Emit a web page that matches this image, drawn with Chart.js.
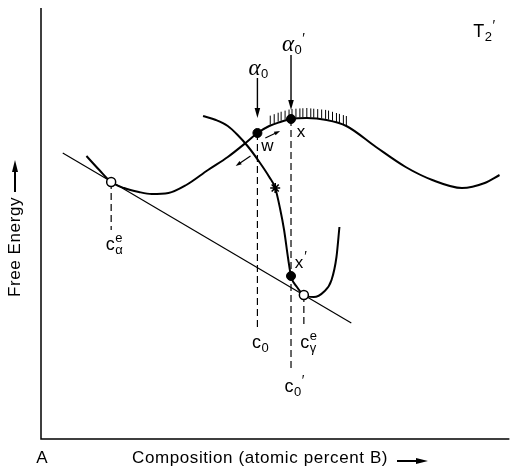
<!DOCTYPE html>
<html>
<head>
<meta charset="utf-8">
<script src="https://cdn.jsdelivr.net/npm/chart.js@4.4.0/dist/chart.umd.min.js"></script>
<style>
  html, body { margin: 0; padding: 0; background: #fff; }
  #wrap { width: 516px; height: 467px; position: relative; }
</style>
</head>
<body>
<div id="wrap"><canvas id="myChart"></canvas></div>
<script>
// composition (A at 0, arbitrary units) / free energy (arbitrary units)
var alphaX = [46, 59, 71, 84, 99, 112, 129, 147, 169, 189, 207, 219, 231, 242, 253, 269, 289, 309, 339, 369, 396, 426, 449, 464];
var alphaY = [283, 269, 257, 251, 247, 245, 246, 254, 269, 282, 296, 306, 313, 317, 320, 321, 319, 313, 292, 272, 259, 251, 256, 264];
var gammaX = [164, 177, 189, 199, 209, 221, 231, 237, 242, 246, 250, 253, 259, 266, 276, 286, 294, 299, 302];
var gammaY = [323, 319, 313, 304, 293, 277, 262, 251, 230, 209, 181, 163, 152, 144, 142, 147, 159, 182, 212];
var tangentX = [22, 314];
var tangentY = [286, 116];
// equilibrium compositions (open circles)
var eqX = [71, 266];
var eqY = [257, 144];
// w, x, x'
var dotX = [219, 253, 253];
var dotY = [306, 320, 163];
var starX = [237];
var starY = [251];
// dashed drop lines
var dropX = [71, 219, 253, 266];
var dropTop = [257, 306, 320, 144];
var dropBottom = [209, 111, 67, 111];
// hatching on the top of the alpha curve
var hatchX = [232, 236, 240, 243, 247, 251, 254, 258, 262, 265, 269, 273, 276, 280, 284, 288, 291, 295, 299, 302, 306, 309];
// arrows: start -> end
var arrowX1 = [219, 253, 212, 227];
var arrowY1 = [361, 384, 283, 301];
var arrowX2 = [219, 253, 197, 242];
var arrowY2 = [321, 329, 273, 308];
// label anchors
var labelX = { a0: 216, a0p: 250, w: 229, x: 263, xp: 261, cae: 70, c0: 218, c0p: 251, cge: 267, T2: 443 };
var labelY = { a0: 370, a0p: 394, w: 293, x: 307, xp: 176, cae: 194, c0: 96, c0p: 52, cge: 96, T2: 407 };

function pts(xs, ys) {
  return xs.map(function (x, i) { return { x: x, y: ys[i] }; });
}
function interp(xs, ys, x) {
  for (var i = 0; i < xs.length - 1; i++) {
    if (x >= xs[i] && x <= xs[i + 1]) {
      var t = (x - xs[i]) / (xs[i + 1] - xs[i]);
      return ys[i] + t * (ys[i + 1] - ys[i]);
    }
  }
  return ys[ys.length - 1];
}

var datasets = [];
datasets.push({ data: pts(eqX, eqY), showLine: false, pointRadius: 4.5, pointBackgroundColor: '#fff', pointBorderColor: '#000', pointBorderWidth: 1.5, order: 0 });
datasets.push({ data: pts(dotX, dotY), showLine: false, pointRadius: 4.5, pointBackgroundColor: '#000', pointBorderColor: '#000', pointBorderWidth: 1, order: 0 });
datasets.push({ data: pts(starX, starY), showLine: false, pointStyle: 'star', pointRadius: 5, pointBorderColor: '#000', pointBorderWidth: 1.6, order: 0 });
datasets.push({ data: pts(alphaX, alphaY), showLine: true, borderColor: '#000', borderWidth: 2, pointRadius: 0, cubicInterpolationMode: 'monotone', order: 2 });
datasets.push({ data: pts(gammaX, gammaY), showLine: true, borderColor: '#000', borderWidth: 2, pointRadius: 0, cubicInterpolationMode: 'monotone', order: 2 });
datasets.push({ data: pts(tangentX, tangentY), showLine: true, borderColor: '#000', borderWidth: 1.2, pointRadius: 0, order: 3 });
dropX.forEach(function (x, i) {
  datasets.push({ data: [{ x: x, y: dropTop[i] }, { x: x, y: dropBottom[i] }], showLine: true, borderColor: '#000', borderWidth: 1.2, borderDash: [7, 4], pointRadius: 0, order: 4 });
});

function arrow(ctx, x1, y1, x2, y2, len, wid) {
  var a = Math.atan2(y2 - y1, x2 - x1);
  ctx.beginPath();
  ctx.moveTo(x1, y1);
  ctx.lineTo(x2 - Math.cos(a) * len * 0.6, y2 - Math.sin(a) * len * 0.6);
  ctx.stroke();
  ctx.beginPath();
  ctx.moveTo(x2, y2);
  ctx.lineTo(x2 - Math.cos(a) * len + Math.sin(a) * wid, y2 - Math.sin(a) * len - Math.cos(a) * wid);
  ctx.lineTo(x2 - Math.cos(a) * len - Math.sin(a) * wid, y2 - Math.sin(a) * len + Math.cos(a) * wid);
  ctx.closePath();
  ctx.fill();
}

// base glyph with optional subscript / superscript / prime
function glyph(ctx, x, y, base, baseFont, sub, sup, prime) {
  ctx.textBaseline = 'middle';
  ctx.textAlign = 'center';
  ctx.font = baseFont;
  ctx.fillText(base, x, y);
  var w = ctx.measureText(base).width;
  var sx = x + w / 2 + 0.5;
  ctx.textAlign = 'left';
  ctx.font = '13px "Liberation Sans", Arial, sans-serif';
  var end = sx;
  if (sub) { ctx.fillText(sub, sx, y + 5); end = Math.max(end, sx + ctx.measureText(sub).width); }
  if (sup) { ctx.fillText(sup, sx, y - 7); end = Math.max(end, sx + ctx.measureText(sup).width); }
  if (prime) { ctx.font = '14px "Liberation Sans", Arial, sans-serif'; ctx.fillText('\u2032', end + 0.5, y - 6); }
}

var decor = {
  id: 'decor',
  afterDraw: function (chart) {
    var ctx = chart.ctx, a = chart.chartArea;
    var sx = chart.scales.x, sy = chart.scales.y;
    function px(v) { return sx.getPixelForValue(v); }
    function py(v) { return sy.getPixelForValue(v); }
    ctx.save();
    ctx.strokeStyle = '#000';
    ctx.fillStyle = '#000';
    // axes
    ctx.lineWidth = 1.5;
    ctx.beginPath();
    ctx.moveTo(a.left, a.top);
    ctx.lineTo(a.left, a.bottom);
    ctx.lineTo(a.right, a.bottom);
    ctx.stroke();
    // hatching
    ctx.lineWidth = 1;
    hatchX.forEach(function (hx) {
      var y0 = py(interp(alphaX, alphaY, hx));
      ctx.beginPath();
      ctx.moveTo(px(hx), y0 - 1);
      ctx.lineTo(px(hx), y0 - 10);
      ctx.stroke();
    });
    // arrows
    arrowX1.forEach(function (x1, i) {
      var big = i < 2;
      ctx.lineWidth = big ? 1.4 : 1.2;
      arrow(ctx, px(x1), py(arrowY1[i]), px(arrowX2[i]), py(arrowY2[i]), big ? 10 : 6, big ? 2.8 : 2);
    });
    // labels
    var sans = '"Liberation Sans", Arial, sans-serif';
    var greek = 'italic 23px "Liberation Serif", serif';
    glyph(ctx, px(labelX.a0), py(labelY.a0), '\u03b1', greek, '0');
    glyph(ctx, px(labelX.a0p), py(labelY.a0p), '\u03b1', greek, '0', null, true);
    glyph(ctx, px(labelX.w), py(labelY.w), 'w', '17px ' + sans);
    glyph(ctx, px(labelX.x), py(labelY.x), 'x', '17px ' + sans);
    glyph(ctx, px(labelX.xp), py(labelY.xp), 'x', '17px ' + sans, null, null, true);
    glyph(ctx, px(labelX.cae), py(labelY.cae), 'c', '18px ' + sans, '\u03b1', 'e');
    glyph(ctx, px(labelX.c0), py(labelY.c0), 'c', '18px ' + sans, '0');
    glyph(ctx, px(labelX.c0p), py(labelY.c0p), 'c', '18px ' + sans, '0', null, true);
    glyph(ctx, px(labelX.cge), py(labelY.cge), 'c', '18px ' + sans, '\u03b3', 'e');
    glyph(ctx, px(labelX.T2), py(labelY.T2), 'T', '18px ' + sans, '2', null, true);
    // axis titles
    ctx.font = '17px ' + sans;
    ctx.textBaseline = 'middle';
    ctx.textAlign = 'center';
    ctx.fillText('A', a.left + 1, 458);
    ctx.textAlign = 'left';
    ctx.letterSpacing = '0.6px';
    ctx.fillText('Composition (atomic percent B)', 132, 458);
    ctx.letterSpacing = '0px';
    ctx.lineWidth = 2;
    arrow(ctx, 397, 461, 428, 461, 12, 3);
    ctx.save();
    ctx.translate(15, 247);
    ctx.rotate(-Math.PI / 2);
    ctx.textAlign = 'center';
    ctx.letterSpacing = '0.6px';
    ctx.fillText('Free Energy', 0, 0);
    ctx.restore();
    arrow(ctx, 15, 192, 15, 160, 12, 3);
    ctx.restore();
  }
};

var ctx = document.getElementById('myChart').getContext('2d');
var chart = new Chart(ctx, {
  type: 'scatter',
  data: { datasets: datasets },
  options: {
    responsive: true,
    maintainAspectRatio: false,
    animation: false,
    layout: { padding: { left: 41, right: 1, top: 8, bottom: 28 } },
    plugins: { legend: { display: false }, tooltip: { enabled: false } },
    scales: {
      x: { type: 'linear', min: 0, max: 474, display: false },
      y: { type: 'linear', min: 0, max: 431, display: false }
    }
  },
  plugins: [decor]
});
</script>
</body>
</html>
